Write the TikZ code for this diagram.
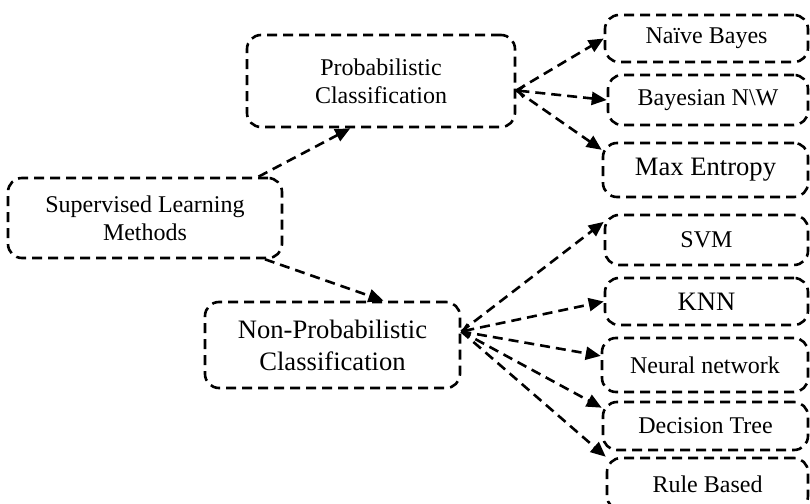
\documentclass[tikz,border=0pt]{standalone}
\usepackage{fontspec}
\setmainfont{Liberation Serif}
\usetikzlibrary{arrows.meta}
\tikzset{
    box/.style={draw, line width=1.3pt, dash pattern=on 5pt off 3pt,
        rounded corners=7pt, align=center, inner sep=0pt,
        font=\fontsize{12}{14}\selectfont},
    bigbox/.style={box, font=\fontsize{13.3}{16}\selectfont},
    link/.style={line width=1.3pt, dash pattern=on 5pt off 3pt,
        -{Triangle[length=7.5pt,width=6.5pt]}},
    fan/.style={link, {Straight Barb[length=3pt,width=6pt]}-{Triangle[length=7.5pt,width=6.5pt]}},
}
\begin{document}
\begin{tikzpicture}[x=0.5pt,y=-0.5pt]
        \useasboundingbox (0,0) rectangle (810,504);
        
        \node[box,minimum width=137pt,minimum height=40pt] (sup) at (145,218) {Supervised Learning\\Methods};
        \node[box,minimum width=134pt,minimum height=46pt] (prob) at (381,81) {Probabilistic\\Classification};
        \node[bigbox,minimum width=127.5pt,minimum height=43pt] (np) at (332.5,345) {Non-Probabilistic\\Classification};
        
        \node[box,minimum width=101.5pt,minimum height=23.5pt] (nb) at (706.5,38.5) {Naïve Bayes};
        \node[box,minimum width=100pt,minimum height=25pt] (bnw) at (708,100) {Bayesian N\textbackslash W};
        \node[bigbox,minimum width=102.5pt,minimum height=27pt] (me) at (705.5,170) {Max Entropy};
        
        \node[box,minimum width=101.5pt,minimum height=25pt] (svm) at (706.5,240) {SVM};
        \node[bigbox,minimum width=101.5pt,minimum height=23.5pt] (knn) at (706.5,301.5) {KNN};
        \node[box,minimum width=103pt,minimum height=27pt] (nn) at (705,365) {Neural network};
        \node[box,minimum width=102.5pt,minimum height=24pt] (dt) at (705.5,426) {Decision Tree};
        \node[box,minimum width=100.5pt,minimum height=26pt] (rb) at (707.5,484) {Rule Based};
        
        \draw[link] (sup.20) -- (prob.237);
        \draw[link] (sup.341) -- (np.41);
        
        \draw[link] (prob.-4) -- (nb.west);
        \draw[fan] (prob.-4) -- (bnw.west);
        \draw[link] (prob.-4) -- (me.169);
        
        \draw[link] (np.6) -- (svm.170);
        \draw[fan] (np.6) -- (knn.west);
        \draw[link] (np.6) -- (nn.175);
        \draw[link] (np.6) -- (dt.170);
        \draw[link] (np.6) -- (rb.165);
    \end{tikzpicture}
\end{document}
